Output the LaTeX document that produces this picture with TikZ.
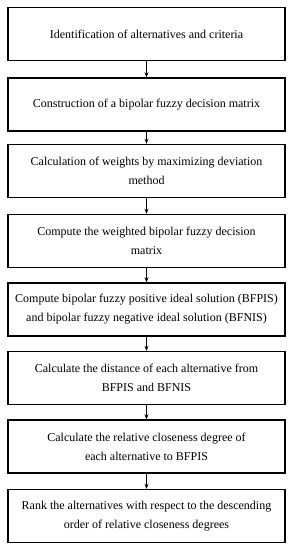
\documentclass[tikz,border=0pt]{standalone}
\usepackage{fontspec}
\setmainfont{Liberation Serif}
\usetikzlibrary{arrows.meta}
\begin{document}
\begin{tikzpicture}[x=1pt,y=-1pt,
  stepbox/.style={draw=black,line width=1.4pt,minimum width=277pt,minimum height=53pt,
    inner sep=0pt,align=center,font=\fontsize{12}{19}\selectfont},
  conn/.style={line width=0.9pt,-{Stealth[length=5pt,width=4pt]}}]
\useasboundingbox[fill=white] (0,0) rectangle (293,550);
\node[stepbox] (b1) at (146.5,34) {Identification of alternatives and criteria};
\node[stepbox] (b2) at (146.5,104.5) {Construction of a bipolar fuzzy decision matrix};
\node[stepbox] (b3) at (146.5,171) {Calculation of weights by maximizing deviation\\method};
\node[stepbox] (b4) at (146.5,241) {Compute the weighted bipolar fuzzy decision\\matrix};
\node[stepbox] (b5) at (146.5,309.5) {Compute bipolar fuzzy positive ideal solution (BFPIS)\\and bipolar fuzzy negative ideal solution (BFNIS)};
\node[stepbox] (b6) at (146.5,378) {Calculate the distance of each alternative from\\BFPIS and BFNIS};
\node[stepbox] (b7) at (146.5,446.5) {Calculate the relative closeness degree of\\each alternative to BFPIS};
\node[stepbox] (b8) at (146.5,516) {Rank the alternatives with respect to the descending\\order of relative closeness degrees};
\foreach \a/\b in {b1/b2,b2/b3,b3/b4,b4/b5,b5/b6,b6/b7,b7/b8}
  \draw[conn] (\a.south) -- (\b.north);
\end{tikzpicture}
\end{document}
